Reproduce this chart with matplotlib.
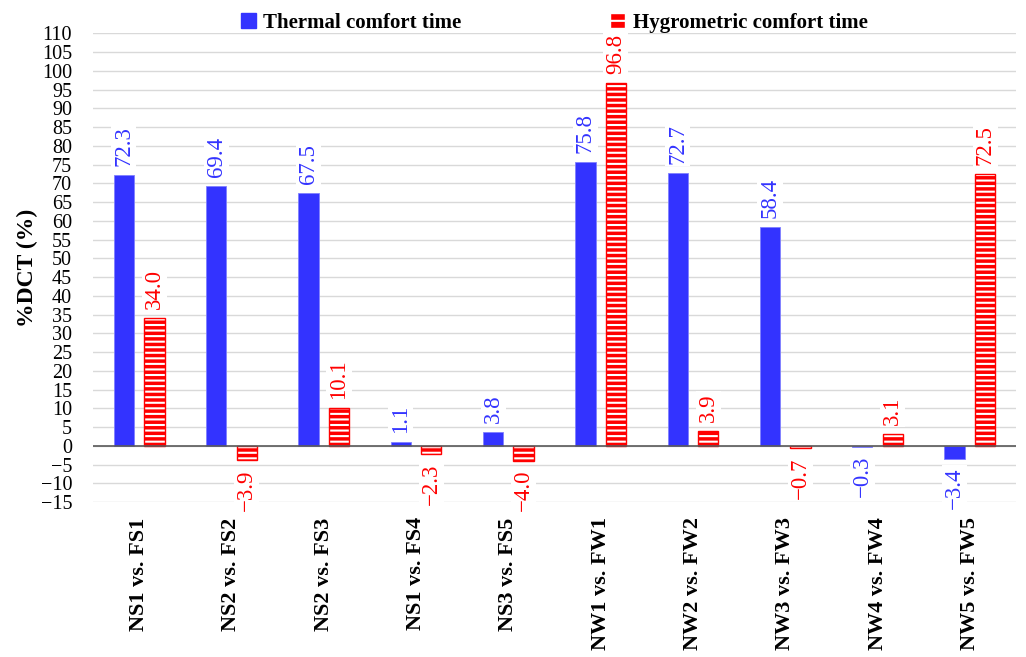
import matplotlib
matplotlib.use("Agg")
import matplotlib.pyplot as plt
import numpy as np
from matplotlib.patches import Patch

categories = ["NS1 vs. FS1", "NS2 vs. FS2", "NS2 vs. FS3", "NS1 vs. FS4", "NS3 vs. FS5",
              "NW1 vs. FW1", "NW2 vs. FW2", "NW3 vs. FW3", "NW4 vs. FW4", "NW5 vs. FW5"]
thermal = [72.3, 69.4, 67.5, 1.1, 3.8, 75.8, 72.7, 58.4, -0.3, -3.4]
hygro = [34.0, -3.9, 10.1, -2.3, -4.0, 96.8, 3.9, -0.7, 3.1, 72.5]
yticks = list(range(-15, 111, 5))

plt.rcParams['font.family'] = ['Liberation Serif', 'DejaVu Serif']
plt.rcParams['hatch.linewidth'] = 1.5

fig = plt.figure(figsize=(10.26, 6.57), dpi=100)
ax = fig.add_axes([93/1026, 1 - 502/657, (1016-93)/1026, (502-33.3)/657])

x = np.arange(len(categories))
w = 0.22
off = 0.165
blue = '#3333ff'
red = '#ff0000'

ax.bar(x - off, thermal, w, color=blue, edgecolor='#8080ff', linewidth=0.6, zorder=3)
ax.bar(x + off, hygro, w, color=red, edgecolor='white', hatch='---', linewidth=0, zorder=3)
ax.bar(x + off, hygro, w, fill=False, edgecolor=red, linewidth=1.0, zorder=4)

h1 = Patch(facecolor=blue, edgecolor=blue)
h2 = Patch(facecolor=red, edgecolor='white', hatch='--')

def lab(xx, v, col):
    if v >= 0:
        y = v + 2.4
        va = 'bottom'
    else:
        y = v - 2.4
        va = 'top'
    ax.text(xx, y, f"{v:.1f}".replace('-', '\u2212'), rotation=90, ha='center', va=va,
            color=col, fontsize=16.5, zorder=5,
            bbox=dict(facecolor='white', edgecolor='none', pad=1.5))

for i in range(len(x)):
    lab(x[i] - off, thermal[i], blue)
    lab(x[i] + off, hygro[i], red)

ax.set_xlim(-0.5, len(categories) - 0.5)
ax.set_ylim(-15, 110)
ax.set_yticks(yticks)
ax.set_yticklabels([str(t).replace('-', '\u2212') for t in yticks], fontsize=14.5)
ax.set_xticks(x)
ax.set_xticklabels(categories, rotation=90, fontsize=16, fontweight='bold')
ax.tick_params(axis='both', length=0)
ax.tick_params(axis='x', pad=11)
ax.tick_params(axis='y', pad=15)
ax.grid(axis='y', color='#d9d9d9', linewidth=1, zorder=0)
ax.axhline(0, color='#595959', linewidth=1.2, zorder=4)
for s in ax.spines.values():
    s.set_visible(False)
ax.set_ylabel('%DCT (%)', fontsize=17, fontweight='bold', labelpad=2)

fig.legend([h1, h2], ['Thermal comfort time', 'Hygrometric comfort time'],
           loc='center', bbox_to_anchor=(554/1026, 1 - 23/657), ncol=2, frameon=False,
           prop={'weight': 'bold', 'size': 15}, handlelength=0.75, handleheight=0.75,
           handletextpad=0.35, columnspacing=7.1)

fig.savefig('out.png', dpi=100)
